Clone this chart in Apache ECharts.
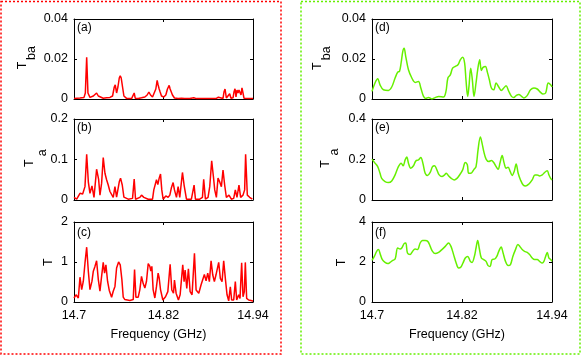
<!DOCTYPE html>
<html>
<head>
<meta charset="utf-8">
<script src="https://cdn.jsdelivr.net/npm/echarts@6/dist/echarts.min.js"></script>
<style>
  html, body { margin: 0; padding: 0; background: #fff; }
  #chart { width: 582px; height: 355px; }
</style>
</head>
<body>
<div id="chart"></div>
<script>
// frequency ticks (GHz)
const freqTicks = [14.7, 14.82, 14.94];

// (a) left column, T_ba
const freqTbaL = [14.7000, 14.7080, 14.7134, 14.7152, 14.7170, 14.7187, 14.7214, 14.7259, 14.7285, 14.7303, 14.7326, 14.7348, 14.7392, 14.7437, 14.7482, 14.7517, 14.7540, 14.7553, 14.7571, 14.7589, 14.7607, 14.7620, 14.7633, 14.7651, 14.7669, 14.7705, 14.7772, 14.7794, 14.7807, 14.7821, 14.7861, 14.7905, 14.7950, 14.7981, 14.8004, 14.8026, 14.8053, 14.8079, 14.8097, 14.8115, 14.8128, 14.8142, 14.8155, 14.8173, 14.8204, 14.8231, 14.8253, 14.8276, 14.8289, 14.8302, 14.8320, 14.8347, 14.8396, 14.8441, 14.8463, 14.8485, 14.8552, 14.8606, 14.8641, 14.8731, 14.8797, 14.8820, 14.8842, 14.8909, 14.8936, 14.8962, 14.8998, 14.9011, 14.9025, 14.9043, 14.9069, 14.9087, 14.9105, 14.9132, 14.9145, 14.9159, 14.9172, 14.9185, 14.9199, 14.9212, 14.9226, 14.9239, 14.9252, 14.9266, 14.9279, 14.9333, 14.9400];
const tbaL = [0.0003, 0.0005, 0.0008, 0.003, 0.0209, 0.003, 0.0008, 0.0015, 0.0025, 0.003, 0.0015, 0.0006, 0.0004, 0.0006, 0.0008, 0.0015, 0.006, 0.0071, 0.003, 0.006, 0.0105, 0.0116, 0.0105, 0.006, 0.0015, 0.0003, 0.0002, 0.0004, 0.003, 0.0004, 0.0003, 0.0006, 0.001, 0.002, 0.0035, 0.002, 0.001, 0.0015, 0.005, 0.0093, 0.007, 0.005, 0.0035, 0.0015, 0.001, 0.002, 0.005, 0.0068, 0.005, 0.0055, 0.002, 0.0005, 0.0003, 0.0004, 0.0013, 0.0003, 0.0002, 0.0006, 0.0002, 0.0002, 0.0003, 0.0009, 0.0002, 0.0003, 0.0009, 0.0002, 0.0003, 0.0035, 0.005, 0.0005, 0.0004, 0.0026, 0.0004, 0.0006, 0.0035, 0.0051, 0.001, 0.0045, 0.003, 0.0045, 0.0055, 0.002, 0.0056, 0.003, 0.0004, 0.0002, 0.0002];

// (b) left column, T_a
const freqTaL = [14.7000, 14.7036, 14.7080, 14.7116, 14.7147, 14.7170, 14.7192, 14.7214, 14.7241, 14.7268, 14.7303, 14.7330, 14.7348, 14.7370, 14.7392, 14.7415, 14.7437, 14.7459, 14.7482, 14.7526, 14.7549, 14.7571, 14.7607, 14.7624, 14.7647, 14.7669, 14.7727, 14.7785, 14.7807, 14.7825, 14.7883, 14.7905, 14.7937, 14.7963, 14.7995, 14.8053, 14.8070, 14.8106, 14.8124, 14.8142, 14.8160, 14.8177, 14.8195, 14.8231, 14.8262, 14.8285, 14.8307, 14.8329, 14.8347, 14.8374, 14.8396, 14.8418, 14.8454, 14.8476, 14.8508, 14.8574, 14.8610, 14.8628, 14.8686, 14.8722, 14.8739, 14.8762, 14.8797, 14.8820, 14.8846, 14.8869, 14.8887, 14.8909, 14.8931, 14.8953, 14.8976, 14.8998, 14.9020, 14.9043, 14.9078, 14.9110, 14.9141, 14.9163, 14.9185, 14.9212, 14.9234, 14.9266, 14.9288, 14.9301, 14.9324, 14.9355, 14.9391];
const taL = [0.0066, 0.002, 0.0165, 0.015, 0.033, 0.113, 0.045, 0.0165, 0.035, 0.0066, 0.076, 0.051, 0.012, 0.041, 0.105, 0.066, 0.05, 0.037, 0.021, 0.0066, 0.033, 0.007, 0.045, 0.054, 0.037, 0.007, 0.002, 0.004, 0.052, 0.002, 0.0066, 0.012, 0.0066, 0.008, 0.002, 0.002, 0.025, 0.05, 0.038, 0.054, 0.064, 0.025, 0.002, 0.01, 0.0066, 0.012, 0.031, 0.043, 0.025, 0.0066, 0.033, 0.0066, 0.068, 0.037, 0.002, 0.002, 0.037, 0.002, 0.002, 0.0066, 0.051, 0.002, 0.0066, 0.033, 0.097, 0.058, 0.025, 0.0066, 0.054, 0.045, 0.033, 0.074, 0.037, 0.0066, 0.012, 0.002, 0.004, 0.025, 0.0066, 0.037, 0.0066, 0.012, 0.025, 0.113, 0.012, 0.0066, 0.002];

// (c) left column, T
const freqTL = [14.7000, 14.7027, 14.7058, 14.7080, 14.7103, 14.7125, 14.7147, 14.7170, 14.7192, 14.7214, 14.7241, 14.7259, 14.7281, 14.7303, 14.7326, 14.7348, 14.7370, 14.7392, 14.7410, 14.7428, 14.7450, 14.7473, 14.7504, 14.7526, 14.7549, 14.7571, 14.7598, 14.7620, 14.7642, 14.7660, 14.7682, 14.7749, 14.7794, 14.7812, 14.7830, 14.7861, 14.7883, 14.7905, 14.7928, 14.7950, 14.7972, 14.7995, 14.8017, 14.8030, 14.8044, 14.8061, 14.8084, 14.8106, 14.8128, 14.8142, 14.8160, 14.8191, 14.8227, 14.8258, 14.8289, 14.8311, 14.8334, 14.8347, 14.8369, 14.8400, 14.8423, 14.8458, 14.8476, 14.8490, 14.8512, 14.8534, 14.8557, 14.8583, 14.8615, 14.8637, 14.8673, 14.8704, 14.8726, 14.8748, 14.8771, 14.8793, 14.8815, 14.8838, 14.8860, 14.8882, 14.8904, 14.8940, 14.8962, 14.8985, 14.9007, 14.9029, 14.9052, 14.9074, 14.9096, 14.9114, 14.9141, 14.9163, 14.9181, 14.9208, 14.9226, 14.9248, 14.9266, 14.9284, 14.9297, 14.9315, 14.9342, 14.9386, 14.9400];
const tL = [0.10, 0.18, 0.10, 0.62, 0.31, 0.52, 0.97, 1.37, 0.77, 0.31, 0.52, 0.77, 0.89, 1.03, 0.56, 0.27, 0.64, 0.99, 0.72, 0.93, 0.52, 0.29, 0.12, 0.27, 0.39, 0.85, 1.00, 0.93, 0.56, 0.12, 0.06, 0.04, 0.06, 0.81, 0.12, 0.12, 0.31, 0.64, 0.46, 0.35, 0.52, 0.96, 0.89, 0.77, 0.89, 0.31, 0.10, 0.39, 0.72, 0.60, 0.31, 0.05, 0.13, 0.26, 0.94, 0.30, 0.22, 0.55, 0.22, 0.05, 0.18, 0.93, 0.51, 0.80, 0.34, 0.83, 0.26, 0.18, 1.22, 0.30, 0.22, 0.43, 0.47, 0.69, 0.53, 0.72, 0.51, 1.03, 0.68, 0.51, 0.68, 0.99, 0.59, 0.51, 1.03, 0.59, 0.18, 0.03, 0.38, 0.05, 0.05, 0.51, 0.05, 0.18, 0.09, 0.98, 0.13, 0.26, 0.99, 0.09, 0.05, 0.03, 0.02];

// (d) right column, T_ba
const freqTbaR = [14.7000, 14.7040, 14.7076, 14.7107, 14.7152, 14.7219, 14.7263, 14.7308, 14.7343, 14.7366, 14.7388, 14.7410, 14.7428, 14.7450, 14.7486, 14.7531, 14.7575, 14.7620, 14.7651, 14.7687, 14.7718, 14.7754, 14.7798, 14.7843, 14.7888, 14.7954, 14.7986, 14.8012, 14.8044, 14.8075, 14.8111, 14.8146, 14.8177, 14.8209, 14.8235, 14.8253, 14.8276, 14.8293, 14.8316, 14.8338, 14.8360, 14.8387, 14.8409, 14.8436, 14.8458, 14.8481, 14.8512, 14.8539, 14.8565, 14.8592, 14.8623, 14.8655, 14.8690, 14.8726, 14.8757, 14.8788, 14.8824, 14.8860, 14.8891, 14.8922, 14.8958, 14.8994, 14.9025, 14.9069, 14.9114, 14.9159, 14.9203, 14.9248, 14.9279, 14.9315, 14.9350, 14.9382, 14.9400];
const tbaR = [0.0038, 0.008, 0.0101, 0.0071, 0.0046, 0.0043, 0.006, 0.0105, 0.0134, 0.0138, 0.018, 0.0237, 0.0254, 0.0212, 0.0146, 0.0105, 0.0083, 0.0088, 0.0055, 0.0013, 0.0003, 0.0008, 0.0000, 0.0007, 0.0013, 0.001, 0.0038, 0.0105, 0.0121, 0.0154, 0.0163, 0.0171, 0.0196, 0.0209, 0.018, 0.0096, 0.0013, 0.0063, 0.0154, 0.0096, 0.0013, 0.008, 0.0146, 0.0196, 0.0143, 0.0158, 0.0163, 0.0133, 0.0096, 0.0055, 0.0046, 0.008, 0.006, 0.0043, 0.0055, 0.0066, 0.0038, 0.0013, 0.0007, 0.0017, 0.0023, 0.0013, 0.0005, 0.0017, 0.0046, 0.0055, 0.005, 0.0033, 0.0025, 0.003, 0.008, 0.0071, 0.006];

// (e) right column, T_a
const freqTaR = [14.7000, 14.7040, 14.7076, 14.7107, 14.7129, 14.7174, 14.7219, 14.7263, 14.7308, 14.7352, 14.7388, 14.7415, 14.7442, 14.7464, 14.7486, 14.7517, 14.7553, 14.7584, 14.7620, 14.7651, 14.7678, 14.7709, 14.7740, 14.7776, 14.7807, 14.7834, 14.7865, 14.7896, 14.7932, 14.7968, 14.7990, 14.8021, 14.8057, 14.8097, 14.8133, 14.8169, 14.8209, 14.8244, 14.8271, 14.8289, 14.8320, 14.8356, 14.8387, 14.8414, 14.8445, 14.8467, 14.8490, 14.8521, 14.8557, 14.8592, 14.8623, 14.8655, 14.8681, 14.8708, 14.8735, 14.8762, 14.8788, 14.8815, 14.8842, 14.8869, 14.8896, 14.8922, 14.8949, 14.8980, 14.9016, 14.9047, 14.9092, 14.9136, 14.9172, 14.9203, 14.9234, 14.9270, 14.9301, 14.9337, 14.9359, 14.9382, 14.9400];
const taR = [0.202, 0.182, 0.165, 0.132, 0.107, 0.091, 0.086, 0.094, 0.124, 0.165, 0.182, 0.169, 0.198, 0.212, 0.182, 0.157, 0.169, 0.193, 0.198, 0.21, 0.182, 0.132, 0.121, 0.136, 0.165, 0.169, 0.149, 0.124, 0.116, 0.124, 0.132, 0.119, 0.107, 0.099, 0.107, 0.124, 0.149, 0.185, 0.174, 0.132, 0.132, 0.149, 0.165, 0.248, 0.311, 0.281, 0.24, 0.202, 0.19, 0.195, 0.185, 0.165, 0.152, 0.185, 0.22, 0.182, 0.157, 0.162, 0.141, 0.121, 0.141, 0.178, 0.132, 0.099, 0.074, 0.069, 0.079, 0.099, 0.124, 0.124, 0.119, 0.124, 0.136, 0.144, 0.124, 0.107, 0.099];

// (f) right column, T
const freqTR = [14.7000, 14.7031, 14.7062, 14.7085, 14.7112, 14.7138, 14.7174, 14.7210, 14.7241, 14.7272, 14.7308, 14.7343, 14.7375, 14.7397, 14.7428, 14.7450, 14.7473, 14.7508, 14.7540, 14.7575, 14.7607, 14.7642, 14.7673, 14.7709, 14.7745, 14.7776, 14.7807, 14.7843, 14.7888, 14.7932, 14.7977, 14.8021, 14.8053, 14.8088, 14.8120, 14.8155, 14.8186, 14.8213, 14.8244, 14.8276, 14.8311, 14.8334, 14.8365, 14.8387, 14.8409, 14.8432, 14.8458, 14.8490, 14.8521, 14.8548, 14.8574, 14.8601, 14.8637, 14.8664, 14.8690, 14.8722, 14.8748, 14.8780, 14.8815, 14.8846, 14.8878, 14.8913, 14.8945, 14.8971, 14.9003, 14.9034, 14.9069, 14.9101, 14.9136, 14.9168, 14.9203, 14.9234, 14.9270, 14.9292, 14.9315, 14.9337, 14.9359, 14.9382, 14.9400];
const tR = [2.08, 2.28, 2.53, 2.62, 2.37, 2.12, 1.98, 1.92, 1.98, 2.07, 2.15, 2.70, 2.65, 2.70, 2.92, 2.95, 2.45, 2.37, 2.53, 2.65, 2.62, 2.95, 3.07, 3.07, 3.03, 2.78, 2.53, 2.42, 2.48, 2.62, 2.78, 2.95, 2.78, 2.37, 1.98, 1.70, 1.75, 1.95, 2.20, 2.28, 2.03, 1.98, 2.28, 2.70, 3.07, 2.65, 2.20, 2.12, 2.03, 1.82, 1.78, 2.12, 2.15, 2.28, 2.53, 2.75, 2.45, 2.03, 1.82, 1.87, 2.28, 2.62, 2.87, 2.78, 2.62, 2.53, 2.48, 2.37, 2.20, 2.12, 2.12, 2.03, 1.95, 2.03, 2.28, 2.48, 2.20, 2.12, 2.03];

const RED = '#ff0000';
const GREEN = '#66f000';
const FONT = 'Liberation Sans';

// box = [left, top, width, height]; names = y label pieces with their spot
const panels = [
  { tag: '(a)', x: freqTbaL, y: tbaL, max: 0.04, step: 0.02, box: [74, 19, 179, 80], color: RED, smooth: false, bottom: false,
    names: [['T', 22.5, 65.5], ['ba', 32, 53]] },
  { tag: '(b)', x: freqTaL, y: taL, max: 0.2, step: 0.1, box: [74, 119, 179, 81], color: RED, smooth: false, bottom: false,
    names: [['T', 30, 163.3], ['a', 43, 152.7]] },
  { tag: '(c)', x: freqTL, y: tL, max: 2, step: 1, box: [74, 222, 179, 80], color: RED, smooth: false, bottom: true,
    names: [['T', 48.8, 262.3]] },
  { tag: '(d)', x: freqTbaR, y: tbaR, max: 0.04, step: 0.02, box: [372, 19, 180, 80], color: GREEN, smooth: 0.35, bottom: false,
    names: [['T', 318, 66.2], ['ba', 327, 53.3]] },
  { tag: '(e)', x: freqTaR, y: taR, max: 0.4, step: 0.2, box: [372, 119, 180, 81], color: GREEN, smooth: 0.35, bottom: false,
    names: [['T', 325.5, 164], ['a', 334.5, 152]] },
  { tag: '(f)', x: freqTR, y: tR, max: 4, step: 2, box: [372, 222, 180, 80], color: GREEN, smooth: 0.35, bottom: true,
    names: [['T', 341.2, 262.5]] }
];

const grid = [], xAxis = [], yAxis = [], series = [], graphic = [];
const black = { color: '#000', width: 1 };

panels.forEach((p, i) => {
  const [left, top, width, height] = p.box;
  grid.push({ left, top, width, height, outerBoundsMode: 'none' });

  // bottom and top frequency axes
  ['bottom', 'top'].forEach(pos => {
    const main = pos === 'bottom';
    xAxis.push({
      type: 'value', gridIndex: i, position: pos,
      min: 14.7, max: 14.94,
      axisLine: { show: true, onZero: false, lineStyle: black },
      axisTick: { show: true, inside: true, length: 3, customValues: freqTicks, lineStyle: black },
      axisLabel: {
        show: main && p.bottom, customValues: freqTicks, margin: 7,
        color: '#000', fontSize: 12.5, fontFamily: FONT,
        formatter: v => String(v)
      },
      splitLine: { show: false },
      name: main && p.bottom ? 'Frequency (GHz)' : '',
      nameLocation: 'middle', nameGap: 26,
      nameTextStyle: { color: '#000', fontSize: 12.5, fontFamily: FONT, padding: [0, 10, 0, 0] }
    });
  });

  // left and right value axes
  ['left', 'right'].forEach(pos => {
    const main = pos === 'left';
    yAxis.push({
      type: 'value', gridIndex: i, position: pos,
      min: 0, max: p.max, interval: p.step,
      axisLine: { show: true, onZero: false, lineStyle: black },
      axisTick: { show: true, inside: true, length: 3, lineStyle: black },
      axisLabel: { show: main, margin: 6, color: '#000', fontSize: 12.5, fontFamily: FONT },
      splitLine: { show: false }
    });
  });

  series.push({
    type: 'line',
    xAxisIndex: 2 * i, yAxisIndex: 2 * i,
    data: p.x.map((f, k) => [f, p.y[k]]),
    showSymbol: false,
    smooth: p.smooth,
    lineStyle: { color: p.color, width: 1.5 },
    itemStyle: { color: p.color },
    z: 3
  });

  // panel tag like (a)
  graphic.push({
    type: 'text', x: left + 3, y: top + (i % 3 === 2 ? 10.5 : 9),
    style: { text: p.tag, fill: '#000', fontSize: 12, fontFamily: FONT, align: 'left', verticalAlign: 'middle' }
  });

  // y axis name, subscript set lower (to the right after rotation)
  p.names.forEach(([t, x, y]) => {
    graphic.push({
      type: 'text', x, y, rotation: Math.PI / 2,
      style: { text: t, fill: '#000', fontSize: 12.5, fontFamily: FONT, align: 'center', verticalAlign: 'middle' }
    });
  });
});

// dotted frames round each column
graphic.push({
  type: 'rect', shape: { x: 1, y: 1.5, width: 280, height: 352.5 },
  style: { fill: 'none', stroke: RED, lineWidth: 1.5, lineDash: [2, 2] }, z: -1
});
graphic.push({
  type: 'rect', shape: { x: 301, y: 1.5, width: 279, height: 352.5 },
  style: { fill: 'none', stroke: GREEN, lineWidth: 1.5, lineDash: [2, 2] }, z: -1
});

const chart = echarts.init(document.getElementById('chart'));
chart.setOption({
  animation: false,
  backgroundColor: '#fff',
  grid, xAxis, yAxis, series, graphic
});
</script>
</body>
</html>
